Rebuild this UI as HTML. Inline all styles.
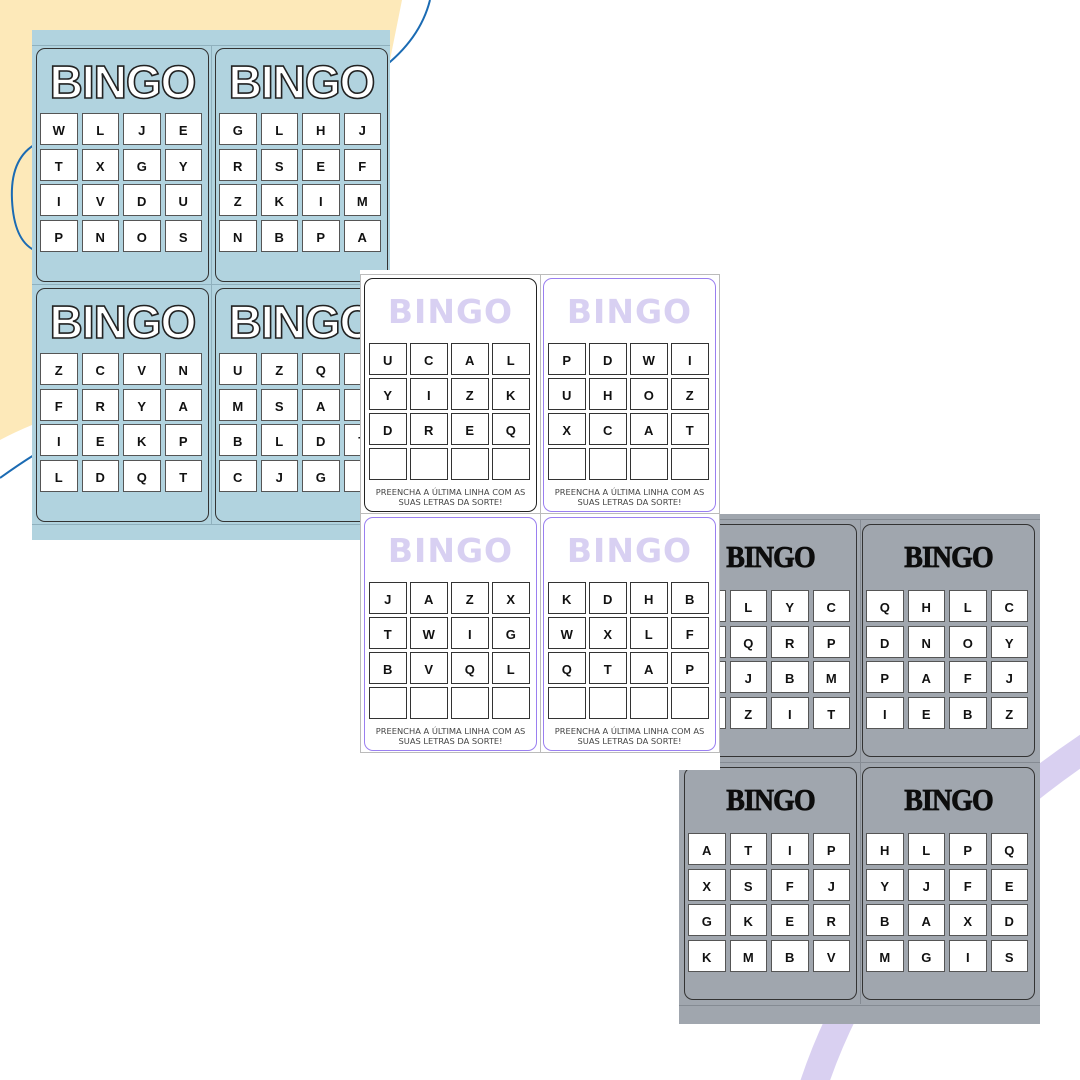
<!DOCTYPE html>
<html><head><meta charset="utf-8"><style>
*{margin:0;padding:0;box-sizing:border-box}
body{width:1080px;height:1080px;position:relative;overflow:hidden;background:#fff;font-family:"Liberation Sans",sans-serif}
.abs{position:absolute}
.sheet{position:absolute}
.card{position:absolute;width:173px;height:234px;border:1.5px solid #333;border-radius:9px}
.grid{position:absolute;left:3px;display:grid;grid-template-columns:repeat(4,37.5px);column-gap:4px;row-gap:3.5px}
.grid div{height:32px;background:#fff;border:1.5px solid #555;display:flex;align-items:center;justify-content:center;font-weight:bold;font-size:13px;color:#111;padding-top:3px}
.w .grid{left:4px;column-gap:3.5px}
.w .grid div{border:1.5px solid #333;height:31.5px}
.title{position:absolute;left:0;width:100%;text-align:center}
.bt{top:6px;font-size:46px;font-weight:900;color:#fff;-webkit-text-stroke:1.6px #222;letter-spacing:-1px}
.wt{top:13px;font-size:33px;font-weight:900;color:#d8d0f2;letter-spacing:1px;font-family:"DejaVu Sans",sans-serif}
.gt{top:14px;font-size:31px;font-weight:900;color:#0d0d0d;font-family:"Liberation Serif",serif;letter-spacing:-1px;transform:scaleX(.9);-webkit-text-stroke:0.8px #0d0d0d}
.note{position:absolute;left:0;width:100%;text-align:center;font-size:8.3px;color:#444;line-height:10px;font-family:"DejaVu Sans",sans-serif;top:208px}
</style></head><body>
<svg class="abs" style="left:0;top:0" width="1080" height="1080">
<path d="M0,0 L402,0 Q396,30 390,60 L390,410 L32,425 Q15,432 0,440 Z" fill="#fde9b9"/>
<path d="M430,0 Q420,40 380,70" stroke="#1b6bb3" stroke-width="2" fill="none"/>
<path d="M34,145 Q10,160 12,200 Q14,240 34,250" stroke="#1b6bb3" stroke-width="2" fill="none"/>
<path d="M0,478 Q18,465 34,455" stroke="#1b6bb3" stroke-width="2" fill="none"/>
<path d="M1105,735 Q880,880 812,1090" stroke="#d9d0f1" stroke-width="28" fill="none"/>
</svg>

<!-- blue sheet -->
<div class="sheet" style="left:32px;top:30px;width:358px;height:510px;background:#b1d3df">
<div class="abs" style="left:0;top:15px;width:358px;height:1px;background:#8fb0bd"></div>
<div class="abs" style="left:179px;top:15px;width:1px;height:480px;background:#8fb0bd"></div>
<div class="abs" style="left:0;top:254px;width:358px;height:1px;background:#8fb0bd"></div>
<div class="abs" style="left:0;top:494px;width:358px;height:1px;background:#8fb0bd"></div>
<div class="card" style="left:4px;top:18px"><div class="title bt">BINGO</div><div class="grid" style="top:64px"><div>W</div><div>L</div><div>J</div><div>E</div><div>T</div><div>X</div><div>G</div><div>Y</div><div>I</div><div>V</div><div>D</div><div>U</div><div>P</div><div>N</div><div>O</div><div>S</div></div></div>
<div class="card" style="left:183px;top:18px"><div class="title bt">BINGO</div><div class="grid" style="top:64px"><div>G</div><div>L</div><div>H</div><div>J</div><div>R</div><div>S</div><div>E</div><div>F</div><div>Z</div><div>K</div><div>I</div><div>M</div><div>N</div><div>B</div><div>P</div><div>A</div></div></div>
<div class="card" style="left:4px;top:258px"><div class="title bt">BINGO</div><div class="grid" style="top:64px"><div>Z</div><div>C</div><div>V</div><div>N</div><div>F</div><div>R</div><div>Y</div><div>A</div><div>I</div><div>E</div><div>K</div><div>P</div><div>L</div><div>D</div><div>Q</div><div>T</div></div></div>
<div class="card" style="left:183px;top:258px"><div class="title bt">BINGO</div><div class="grid" style="top:64px"><div>U</div><div>Z</div><div>Q</div><div>I</div><div>M</div><div>S</div><div>A</div><div>I</div><div>B</div><div>L</div><div>D</div><div>T</div><div>C</div><div>J</div><div>G</div><div>I</div></div></div>
</div>

<!-- gray sheet -->
<div class="sheet" style="left:679px;top:514px;width:361px;height:510px;background:#a0a6ae">
<div class="abs" style="left:0;top:5px;width:361px;height:1px;background:#858b93"></div>
<div class="abs" style="left:181px;top:5px;width:1px;height:245px;background:#858b93"></div>
<div class="abs" style="left:181px;top:250px;width:1px;height:240px;background:#858b93"></div>
<div class="abs" style="left:0;top:248px;width:361px;height:1px;background:#858b93"></div>
<div class="abs" style="left:0;top:491px;width:361px;height:1px;background:#858b93"></div>
<div class="card" style="left:5px;top:10px;height:233px"><div class="title gt">BINGO</div><div class="grid" style="top:65px"><div>A</div><div>L</div><div>Y</div><div>C</div><div>H</div><div>Q</div><div>R</div><div>P</div><div>K</div><div>J</div><div>B</div><div>M</div><div>S</div><div>Z</div><div>I</div><div>T</div></div></div>
<div class="card" style="left:183px;top:10px;height:233px"><div class="title gt">BINGO</div><div class="grid" style="top:65px"><div>Q</div><div>H</div><div>L</div><div>C</div><div>D</div><div>N</div><div>O</div><div>Y</div><div>P</div><div>A</div><div>F</div><div>J</div><div>I</div><div>E</div><div>B</div><div>Z</div></div></div>
<div class="card" style="left:5px;top:253px;height:233px"><div class="title gt">BINGO</div><div class="grid" style="top:65px"><div>A</div><div>T</div><div>I</div><div>P</div><div>X</div><div>S</div><div>F</div><div>J</div><div>G</div><div>K</div><div>E</div><div>R</div><div>K</div><div>M</div><div>B</div><div>V</div></div></div>
<div class="card" style="left:183px;top:253px;height:233px"><div class="title gt">BINGO</div><div class="grid" style="top:65px"><div>H</div><div>L</div><div>P</div><div>Q</div><div>Y</div><div>J</div><div>F</div><div>E</div><div>B</div><div>A</div><div>X</div><div>D</div><div>M</div><div>G</div><div>I</div><div>S</div></div></div>
</div>

<!-- white sheet -->
<div class="sheet w" style="left:360px;top:270px;width:360px;height:500px;background:#fff">
<div class="abs" style="left:0;top:4px;width:360px;height:479px;border:1px solid #bbb"></div>
<div class="abs" style="left:180px;top:4px;width:1px;height:479px;background:#bbb"></div>
<div class="abs" style="left:0;top:243px;width:360px;height:1px;background:#bbb"></div>
<div class="card" style="left:4px;top:8px;border-color:#222"><div class="title wt">BINGO</div><div class="grid" style="top:64px"><div>U</div><div>C</div><div>A</div><div>L</div><div>Y</div><div>I</div><div>Z</div><div>K</div><div>D</div><div>R</div><div>E</div><div>Q</div><div></div><div></div><div></div><div></div></div><div class="note">PREENCHA A ÚLTIMA LINHA COM AS<br>SUAS LETRAS DA SORTE!</div></div>
<div class="card" style="left:183px;top:8px;border-color:#9a7ff0"><div class="title wt">BINGO</div><div class="grid" style="top:64px"><div>P</div><div>D</div><div>W</div><div>I</div><div>U</div><div>H</div><div>O</div><div>Z</div><div>X</div><div>C</div><div>A</div><div>T</div><div></div><div></div><div></div><div></div></div><div class="note">PREENCHA A ÚLTIMA LINHA COM AS<br>SUAS LETRAS DA SORTE!</div></div>
<div class="card" style="left:4px;top:247px;border-color:#9a7ff0"><div class="title wt">BINGO</div><div class="grid" style="top:64px"><div>J</div><div>A</div><div>Z</div><div>X</div><div>T</div><div>W</div><div>I</div><div>G</div><div>B</div><div>V</div><div>Q</div><div>L</div><div></div><div></div><div></div><div></div></div><div class="note">PREENCHA A ÚLTIMA LINHA COM AS<br>SUAS LETRAS DA SORTE!</div></div>
<div class="card" style="left:183px;top:247px;border-color:#9a7ff0"><div class="title wt">BINGO</div><div class="grid" style="top:64px"><div>K</div><div>D</div><div>H</div><div>B</div><div>W</div><div>X</div><div>L</div><div>F</div><div>Q</div><div>T</div><div>A</div><div>P</div><div></div><div></div><div></div><div></div></div><div class="note">PREENCHA A ÚLTIMA LINHA COM AS<br>SUAS LETRAS DA SORTE!</div></div>
</div>
</body></html>
